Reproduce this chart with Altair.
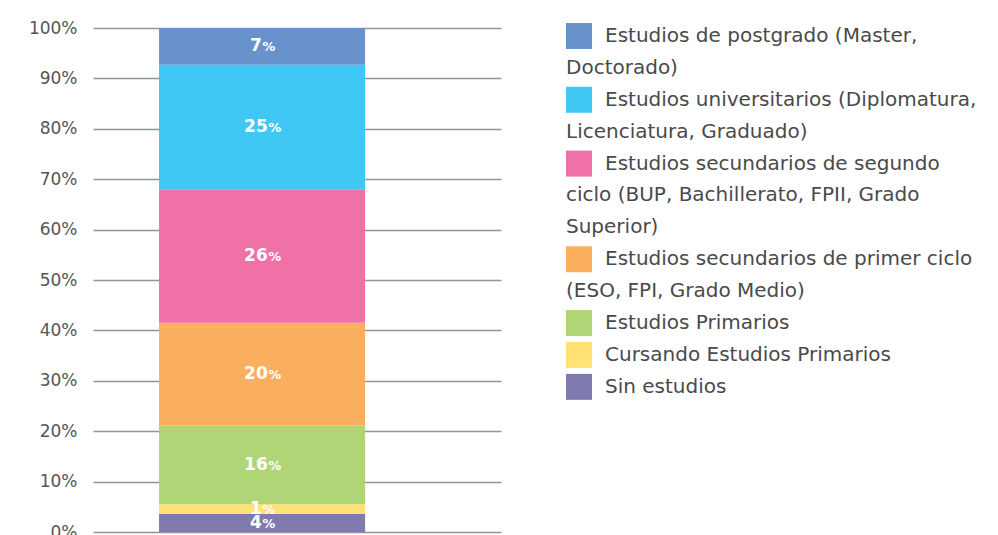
import altair as alt
import pandas as pd

# Stack order, bottom to top
categories = [
    "Sin estudios",
    "Cursando Estudios Primarios",
    "Estudios Primarios",
    "Estudios secundarios de primer ciclo (ESO, FPI, Grado Medio)",
    "Estudios secundarios de segundo ciclo (BUP, Bachillerato, FPII, Grado Superior)",
    "Estudios universitarios (Diplomatura, Licenciatura, Graduado)",
    "Estudios de postgrado (Master, Doctorado)",
]
values = [3.6, 1.9, 15.6, 20.4, 26.5, 24.7, 7.3]
labels = ["4", "1", "16", "20", "26", "25", "7"]
colors = ["#807BAE", "#FFE175", "#B0D577", "#FAAF5F", "#F070A8", "#40C8F4", "#6892CC"]

# Legend text, top to bottom, wrapped as in the original
legend_lines = [
    ["Estudios de postgrado (Master,", "Doctorado)"],
    ["Estudios universitarios (Diplomatura,", "Licenciatura, Graduado)"],
    ["Estudios secundarios de segundo", "ciclo (BUP, Bachillerato, FPII, Grado", "Superior)"],
    ["Estudios secundarios de primer ciclo", "(ESO, FPI, Grado Medio)"],
    ["Estudios Primarios"],
    ["Cursando Estudios Primarios"],
    ["Sin estudios"],
]
legend_categories = categories[::-1]

FONT = "DejaVu Sans"
NUM_SIZE = 17
PCT_SIZE = 13
DIGIT_W = 0.696 * NUM_SIZE
PCT_W = 0.95 * PCT_SIZE

# bar data
rows = []
cum = 0.0
for i, (c, v, l) in enumerate(zip(categories, values, labels)):
    rows.append({
        "grupo": "Total", "cat": c, "value": v, "label": l, "idx": i,
        "mid": cum + v / 2, "ndig": len(l),
    })
    cum += v
df = pd.DataFrame(rows)

color_scale = alt.Scale(domain=categories, range=colors)
xscale = alt.Scale(paddingInner=0, paddingOuter=0.49, align=0.327)

base = alt.Chart(df)
bars = base.mark_bar(stroke=None).encode(
    x=alt.X("grupo:N", scale=xscale, axis=None),
    y=alt.Y(
        "value:Q",
        stack="zero",
        scale=alt.Scale(domain=[0, 100], nice=False),
        axis=alt.Axis(
            values=list(range(0, 101, 10)),
            labelExpr="datum.value + '%'",
            title=None,
            domain=False,
            ticks=False,
            grid=True,
            gridColor="#8f959c",
            gridWidth=1.5,
            labelFont=FONT,
            labelFontSize=17,
            labelColor="#555555",
            labelPadding=16,
        ),
    ),
    color=alt.Color("cat:N", scale=color_scale, legend=None),
    order=alt.Order("idx:Q"),
)

label_layers = []
for nd in sorted(set(len(l) for l in labels)):
    split = (nd * DIGIT_W + PCT_W) / 2 - PCT_W
    sub = base.transform_filter(f"datum.ndig == {nd}")
    label_layers.append(
        sub.mark_text(color="white", font=FONT, fontSize=NUM_SIZE, fontWeight="bold",
                      align="right", baseline="middle", dx=split).encode(
            x=alt.X("grupo:N", scale=xscale, axis=None),
            y=alt.Y("mid:Q", stack=None),
            text="label:N",
        )
    )
    label_layers.append(
        sub.mark_text(color="white", font=FONT, fontSize=PCT_SIZE, fontWeight="bold",
                      align="left", baseline="middle", dx=split + 0.5, dy=1).encode(
            x=alt.X("grupo:N", scale=xscale, axis=None),
            y=alt.Y("mid:Q", stack=None),
            text=alt.value("%"),
        )
    )

left = alt.layer(bars, *label_layers).properties(width=408, height=504)

# legend data
lrows = []
srows = []
line = 0
for c, lines in zip(legend_categories, legend_lines):
    srows.append({"cat": c, "line": line})
    for j, t in enumerate(lines):
        lrows.append({"cat": c, "line": line, "text": t, "first": j == 0})
        line += 1
ldf = pd.DataFrame(lrows)
sdf = pd.DataFrame(srows)

yscale = alt.Scale(domain=[-0.25, 15.55], reverse=True, nice=False, zero=False)
LEG_SIZE = 20

squares = alt.Chart(sdf).mark_square(size=676, opacity=1, shape="square").encode(
    x=alt.value(13),
    y=alt.Y("line:Q", scale=yscale, axis=None),
    color=alt.Color("cat:N", scale=color_scale, legend=None),
)
first_text = alt.Chart(ldf).transform_filter("datum.first").mark_text(
    align="left", baseline="middle", font=FONT, fontSize=LEG_SIZE, color="#4a4a4a"
).encode(
    x=alt.value(39),
    y=alt.Y("line:Q", scale=yscale, axis=None),
    text="text:N",
)
cont_text = alt.Chart(ldf).transform_filter("!datum.first").mark_text(
    align="left", baseline="middle", font=FONT, fontSize=LEG_SIZE, color="#4a4a4a"
).encode(
    x=alt.value(0),
    y=alt.Y("line:Q", scale=yscale, axis=None),
    text="text:N",
)
legend = (squares + first_text + cont_text).properties(width=410, height=504)

chart = alt.hconcat(left, legend, spacing=65).resolve_scale(color="shared").properties(
    padding={"left": 20, "top": 11, "right": 0, "bottom": 0}
).configure_view(stroke=None)

chart.save("out.html", embed_options={"renderer": "svg", "actions": False})
